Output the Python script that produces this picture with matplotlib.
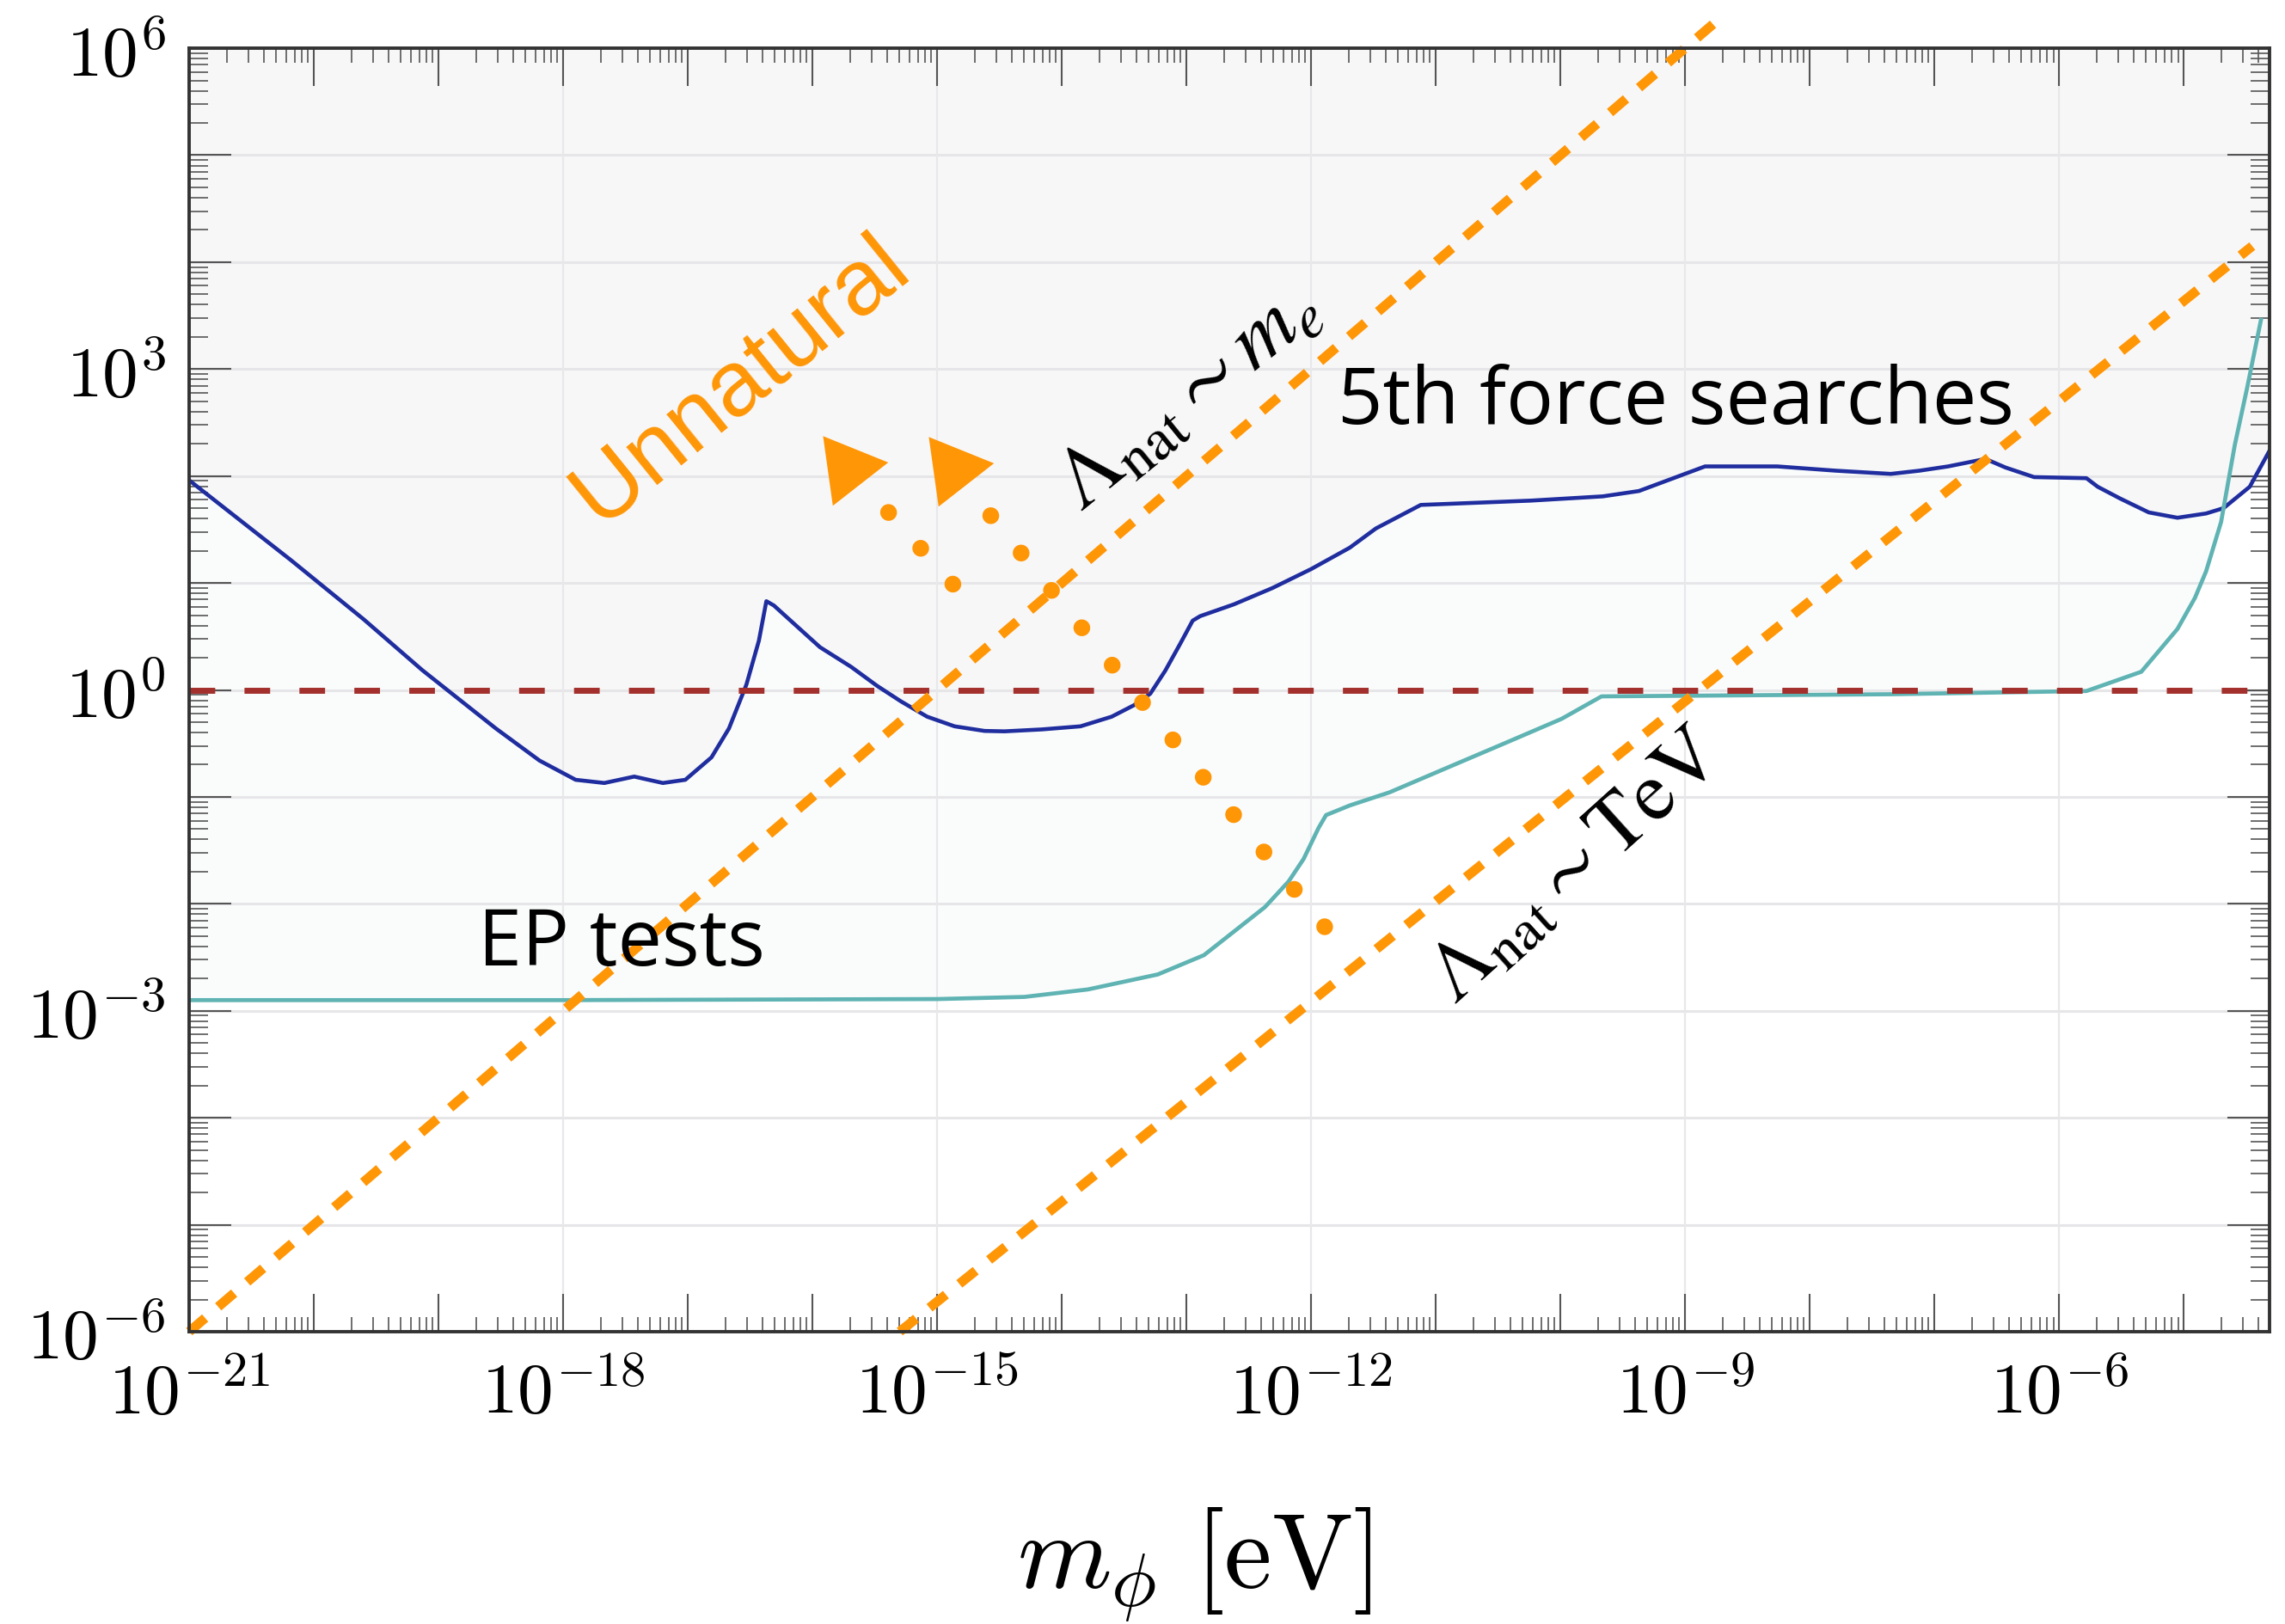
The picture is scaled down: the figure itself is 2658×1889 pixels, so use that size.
import numpy as np
import matplotlib.pyplot as plt
from matplotlib.ticker import FixedLocator, LogLocator, FuncFormatter, NullFormatter

plt.rcParams['mathtext.fontset'] = 'cm'

# bounds as log10 values
fifth_logm = [-21.0, -20.18, -19.60, -19.13, -18.54, -18.19, -17.90, -17.67, -17.43, -17.20,
              -17.02, -16.81, -16.67, -16.53, -16.43, -16.37, -16.31, -15.94, -15.69, -15.48,
              -15.29, -15.08, -14.86, -14.62, -14.46, -14.16, -13.85, -13.60, -13.42, -13.29,
              -13.17, -13.05, -12.95, -12.89, -12.62, -12.31, -12.00, -11.69, -11.48, -11.12,
              -10.24, -9.66, -9.37, -8.84, -8.26, -7.79, -7.35, -7.12, -6.89, -6.59,
              -6.43, -6.20, -5.78, -5.69, -5.51, -5.28, -5.05, -4.82, -4.68, -4.47, -4.31]
fifth_logd = [1.96, 1.21, 0.66, 0.185, -0.36, -0.66, -0.84, -0.87, -0.81, -0.87,
              -0.84, -0.63, -0.36, 0.05, 0.46, 0.83, 0.79, 0.40, 0.216, 0.037,
              -0.107, -0.25, -0.34, -0.383, -0.387, -0.369, -0.34, -0.25, -0.142, -0.035,
              0.18, 0.432, 0.648, 0.69, 0.80, 0.953, 1.13, 1.33, 1.51, 1.73,
              1.77, 1.81, 1.86, 2.09, 2.09, 2.05, 2.02, 2.05, 2.09, 2.16,
              2.08, 1.99, 1.98, 1.90, 1.79, 1.66, 1.61, 1.65, 1.70, 1.90, 2.24]

ep_logm = [-21.0, -18.0, -15.0, -14.3, -13.79, -13.23, -12.86, -12.62, -12.37, -12.18,
           -12.06, -11.94, -11.88, -11.69, -11.37, -10.91, -10.45, -9.99, -9.67, -7.35,
           -5.78, -5.34, -5.05, -4.91, -4.82, -4.70, -4.59, -4.49, -4.38]
ep_logd = [-2.90, -2.90, -2.89, -2.87, -2.80, -2.66, -2.48, -2.26, -2.03, -1.79,
           -1.58, -1.29, -1.17, -1.08, -0.957, -0.728, -0.50, -0.27, -0.06, -0.04,
           -0.01, 0.17, 0.57, 0.86, 1.11, 1.57, 2.29, 2.83, 3.46]

# naturalness lines (log10 endpoints)
me_logm = [-21.0, -8.68]
me_logd = [-6.0, 6.32]
tev_logm = [-15.3, -4.45]
tev_logd = [-6.0, 4.15]

# dotted arrows (log10 of dot run and of the head)
arrow1_logm = [-15.39, -14.62]
arrow1_logd = [1.66, 0.66]
head1 = (-15.72, 2.08)
arrow2_logm = [-14.57, -11.65]
arrow2_logd = [1.63, -2.56]
head2 = (-14.87, 2.07)

xlim_log = (-21.0, -4.31)
ylim_log = (-6.0, 6.0)
grid_x_log = [-18, -15, -12, -9, -6]

orange = '#ff9606'
p = lambda v: 10.0 ** np.asarray(v)

fig = plt.figure(figsize=(26.58, 18.90), dpi=100)
ax = fig.add_axes([0.0828, 0.1799, 0.9105, 0.7899])
ax.set_xscale('log')
ax.set_yscale('log')
ax.set_xlim(p(xlim_log[0]), p(xlim_log[1]))
ax.set_ylim(p(ylim_log[0]), p(ylim_log[1]))

# shaded excluded regions
ax.fill_between(p(ep_logm), p(ep_logd), p(ylim_log[1]), color='#fafcfc', lw=0, zorder=0.2)
ax.fill_between(p(fifth_logm), p(fifth_logd), p(ylim_log[1]), color='#f7f7f8', lw=0, zorder=0.3)

# grid
for yy in range(int(ylim_log[0]) + 1, int(ylim_log[1])):
    ax.axhline(p(yy), color='#e6e6e8', lw=2.2, zorder=0.5)
for xx in grid_x_log:
    ax.axvline(p(xx), color='#e8e8ea', lw=1.6, zorder=0.5)

ax.plot(p(fifth_logm), p(fifth_logd), color='#1f2d9e', lw=3.3, zorder=3)
ax.plot(p(ep_logm), p(ep_logd), color='#5fb3b3', lw=3.4, zorder=3)
ax.axhline(1.0, color='#a3302c', lw=5, dashes=(4.3, 4.9), zorder=3.5)

ax.plot(p(me_logm), p(me_logd), color=orange, lw=8, dashes=(2.2, 1.8), zorder=4, clip_on=False)
ax.plot(p(tev_logm), p(tev_logd), color=orange, lw=8, dashes=(2.2, 1.8), zorder=4, clip_on=False)

for am, ad, hd in [(arrow1_logm, arrow1_logd, head1), (arrow2_logm, arrow2_logd, head2)]:
    ax.plot(p(am), p(ad), color=orange, lw=14, dashes=(0.01, 2.87),
            dash_capstyle='round', zorder=5)
    ax.plot(p(hd[0]), p(hd[1]), marker=(3, 0, 38), ms=68, color=orange, mew=0, zorder=5)

# texts
ax.text(p(-16.57), p(2.90), 'Unnatural', color=orange, fontsize=78, family='Liberation Sans',
        rotation=39, ha='center', va='center', zorder=6)
ax.text(p(-12.99), p(2.75), r'$\Lambda_{\rm nat} \sim m_e$', fontsize=72, math_fontfamily='stix',
        rotation=39, ha='center', va='center', zorder=6)
ax.text(p(-9.88), p(-1.64), r'$\Lambda_{\rm nat} \sim {\rm TeV}$', fontsize=70,
        math_fontfamily='stix', rotation=42, ha='center', va='center', zorder=6)
ax.text(p(-11.79), p(2.5), '5th force searches', fontsize=66, family='Open Sans',
        ha='left', va='baseline', zorder=6)
ax.text(p(-18.68), p(-2.57), 'EP tests', fontsize=66, family='Open Sans',
        ha='left', va='baseline', zorder=6)

# ticks
def dec_label(v, pos):
    e = int(round(np.log10(v)))
    return r'$10^{%d}$' % e if e % 3 == 0 else ''

ax.xaxis.set_major_locator(FixedLocator(p(np.arange(-21, -4))))
ax.yaxis.set_major_locator(FixedLocator(p(np.arange(-6, 7))))
ax.xaxis.set_major_formatter(FuncFormatter(dec_label))
ax.yaxis.set_major_formatter(FuncFormatter(dec_label))
for a in (ax.xaxis, ax.yaxis):
    a.set_minor_locator(LogLocator(base=10, subs=np.arange(2, 10), numticks=200))
    a.set_minor_formatter(NullFormatter())

ax.tick_params(which='both', direction='in', top=True, right=True, color='#555555')
ax.tick_params(axis='x', which='major', length=32, width=1.5, labelsize=60, pad=22)
ax.tick_params(axis='x', which='minor', length=12, width=1.2)
ax.tick_params(axis='y', which='major', length=35, width=1.5, labelsize=60, pad=20)
ax.tick_params(axis='y', which='minor', length=16, width=1.2)
for s in ax.spines.values():
    s.set_linewidth(2.8)
    s.set_color('#333333')
    s.set_zorder(7)

ax.set_xlabel(r'$m_\phi\ [\mathrm{eV}]$', fontsize=90)
ax.xaxis.set_label_coords(0.483, -0.135)

fig.savefig('out.png', dpi=100)
